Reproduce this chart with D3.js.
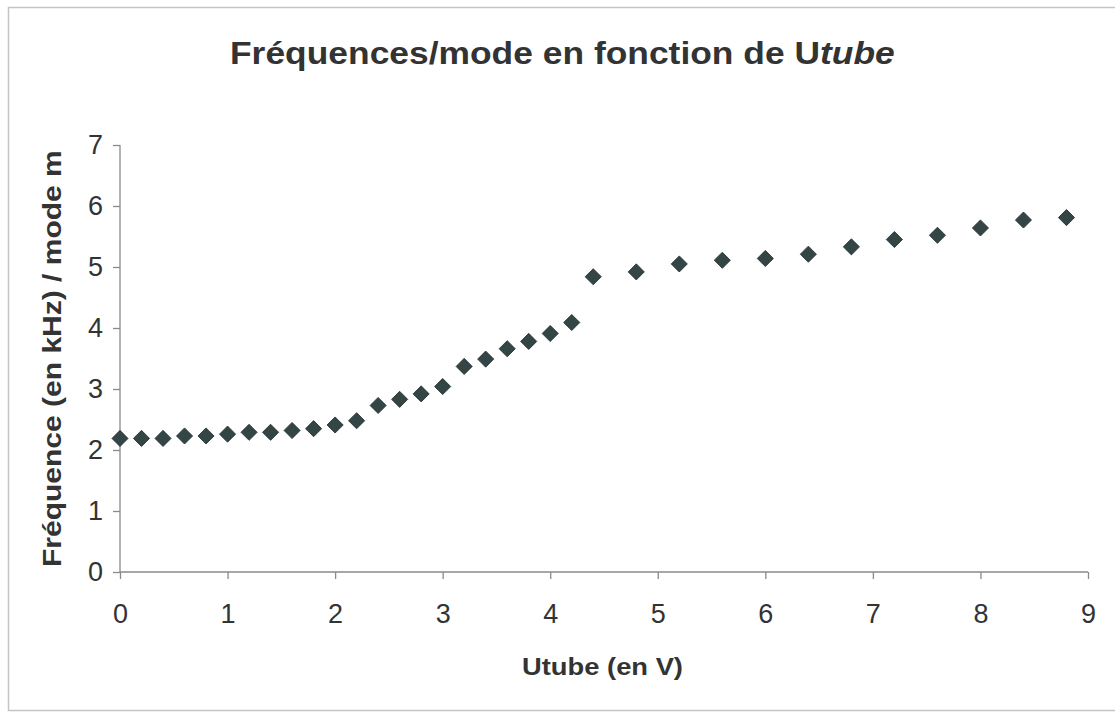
<!DOCTYPE html>
<html>
<head>
<meta charset="utf-8">
<script src="https://cdn.jsdelivr.net/npm/d3@7"></script>
<style>
  html, body { margin: 0; padding: 0; background: #fff; }
  svg { display: block; font-family: "Liberation Sans", Arial, sans-serif; }
</style>
</head>
<body>
<svg id="chart" width="1115" height="715"></svg>
<script>
// Tube voltage (V) and measured frequency per mode (kHz)
const utube = [0, 0.2, 0.4, 0.6, 0.8, 1.0, 1.2, 1.4, 1.6, 1.8, 2.0, 2.2, 2.4, 2.6, 2.8, 3.0,
               3.2, 3.4, 3.6, 3.8, 4.0, 4.2, 4.4, 4.8, 5.2, 5.6, 6.0, 6.4, 6.8, 7.2, 7.6, 8.0, 8.4, 8.8];
const freqPerMode = [2.19, 2.19, 2.19, 2.23, 2.23, 2.26, 2.29, 2.29, 2.32, 2.35, 2.41, 2.48, 2.73, 2.83, 2.92, 3.04,
                     3.37, 3.49, 3.66, 3.78, 3.91, 4.09, 4.84, 4.92, 5.05, 5.11, 5.14, 5.21, 5.33, 5.45, 5.52, 5.64, 5.77, 5.81];
const xTicks = [0, 1, 2, 3, 4, 5, 6, 7, 8, 9];
const yTicks = [0, 1, 2, 3, 4, 5, 6, 7];

const svg = d3.select("#chart");
const plot = { left: 120, right: 1088, top: 145, bottom: 572 };

const x = d3.scaleLinear().domain([0, 9]).range([plot.left, plot.right]);
const y = d3.scaleLinear().domain([0, 7]).range([plot.bottom, plot.top]);

// Places a text group at (tx, ty), rotated, and stretched along its reading direction to a given length
function placeStretched(g, text, tx, ty, angle, length) {
  const w = text.node().getComputedTextLength();
  g.attr("transform", `translate(${tx},${ty}) rotate(${angle}) scale(${length / w},1)`);
}

// Chart frame
svg.append("rect")
  .attr("x", 8.5).attr("y", 7.5)
  .attr("width", 1120).attr("height", 703)
  .attr("fill", "#fff").attr("stroke", "#c4c4c4").attr("stroke-width", 1.5);

// Title (regular bold run followed by a bold italic run)
const titleG = svg.append("g");
const title = titleG.append("text")
  .attr("font-size", 32).attr("font-weight", "bold").attr("fill", "#333");
title.append("tspan").text("Fréquences/mode en fonction de U");
title.append("tspan").attr("font-style", "italic").text("tube");
placeStretched(titleG, title, 230, 64, 0, 665);

// Axes
const axisColor = "#8a8a8a";
const xAxis = svg.append("g")
  .attr("transform", `translate(0,${plot.bottom})`)
  .call(d3.axisBottom(x).tickValues(xTicks).tickSize(7).tickPadding(25).tickFormat(d3.format("d")));
const yAxis = svg.append("g")
  .attr("transform", `translate(${plot.left},0)`)
  .call(d3.axisLeft(y).tickValues(yTicks).tickSize(7).tickPadding(10).tickFormat(d3.format("d")));

[xAxis, yAxis].forEach(g => {
  g.select(".domain").attr("stroke", axisColor).attr("stroke-width", 1.3);
  g.selectAll(".tick line").attr("stroke", axisColor).attr("stroke-width", 1.3);
  g.selectAll(".tick text")
    .attr("font-size", 27).attr("fill", "#333")
    .attr("font-family", "\"Liberation Sans\", Arial, sans-serif");
});
xAxis.select(".domain").attr("d", `M${plot.left},0H${plot.right}`);
yAxis.select(".domain").attr("d", `M0,${plot.bottom}V${plot.top}`);

// Axis titles
const xTitleG = svg.append("g");
const xTitle = xTitleG.append("text")
  .attr("font-size", 24).attr("font-weight", "bold").attr("fill", "#333")
  .text("Utube (en V)");
placeStretched(xTitleG, xTitle, 522, 675, 0, 161);

const yTitleG = svg.append("g");
const yTitle = yTitleG.append("text")
  .attr("font-size", 25).attr("font-weight", "bold").attr("fill", "#333")
  .text("Fréquence (en kHz) / mode m");
placeStretched(yTitleG, yTitle, 61, 567, -90, 417);

// Diamond markers
const diamond = d3.symbol().type(d3.symbolSquare).size(130);
const data = utube.map((u, i) => ({ u, f: freqPerMode[i] }));
svg.append("g")
  .selectAll("path")
  .data(data)
  .join("path")
  .attr("d", diamond)
  .attr("transform", d => `translate(${x(d.u)},${y(d.f)}) rotate(45)`)
  .attr("fill", "#344545")
  .attr("stroke", "#243030")
  .attr("stroke-width", 0.8);
</script>
</body>
</html>
